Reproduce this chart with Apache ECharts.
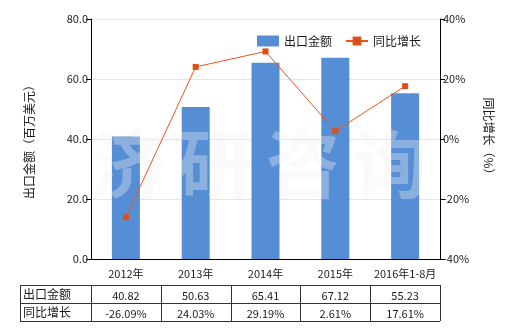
<!DOCTYPE html>
<html><head><meta charset="utf-8">
<script src="https://cdn.jsdelivr.net/npm/echarts@6/dist/echarts.min.js"></script>
<style>html,body{margin:0;padding:0;background:#fff}#c{width:520px;height:330px}</style>
</head><body><div id="c"></div>
<script>
var categories = ['2012年','2013年','2014年','2015年','2016年1-8月'];
var exportValues = [40.82, 50.63, 65.41, 67.12, 55.23];
var growthValues = [-26.09, 24.03, 29.19, 2.61, 17.61];
var exportLabels = ['40.82','50.63','65.41','67.12','55.23'];
var growthLabels = ['-26.09%','24.03%','29.19%','2.61%','17.61%'];
var seriesNames = ['出口金额','同比增长'];
var leftAxisName = '出口金额（百万美元）';
var rightAxisName = '同比增长（%）';

var FONT = '"Noto Sans CJK SC", sans-serif';
var chart = echarts.init(document.getElementById('c'), null, {renderer:'canvas'});
var txt = '#1a1a1a';
var option = {
  animation:false,
  textStyle:{fontFamily:FONT},
  grid:{left:91,right:80,top:19,bottom:71},
  legend:{left:252,top:30,itemWidth:22,itemHeight:11,itemGap:13,
    textStyle:{fontSize:12,color:txt,fontFamily:FONT},
    data:[{name:seriesNames[0],icon:'rect'},{name:seriesNames[1]}]},
  xAxis:{type:'category',data:categories,
    axisLine:{lineStyle:{color:'#000'}},
    axisTick:{alignWithLabel:true,length:4,lineStyle:{color:'#000'}},
    axisLabel:{interval:0,fontSize:11,color:txt,margin:9,fontFamily:FONT}},
  yAxis:[{type:'value',min:0,max:80,interval:20,name:leftAxisName,nameLocation:'middle',nameGap:56,nameRotate:90,
    nameTextStyle:{fontSize:12,color:txt,fontFamily:FONT},
    axisLine:{show:true,lineStyle:{color:'#000'}},axisTick:{show:true,length:5,lineStyle:{color:'#000'}},
    axisLabel:{fontSize:11,color:txt,margin:3,formatter:function(v){return v.toFixed(1);},fontFamily:FONT},
    splitLine:{lineStyle:{color:'#e6e6e0'}}},
   {type:'value',min:-40,max:40,interval:20,name:rightAxisName,nameLocation:'middle',nameGap:43,nameRotate:-90,
    nameTextStyle:{fontSize:12,color:txt,fontFamily:FONT},
    axisLine:{show:true,lineStyle:{color:'#000'}},axisTick:{show:true,length:5,lineStyle:{color:'#000'}},
    axisLabel:{fontSize:11,color:txt,margin:3,formatter:'{value}%',fontFamily:FONT},
    splitLine:{show:false}}],
  series:[
    {name:seriesNames[0],type:'bar',data:exportValues,barWidth:28,itemStyle:{color:'#558ed5'},z:2},
    {name:seriesNames[1],type:'line',yAxisIndex:1,data:growthValues,symbol:'rect',symbolSize:6,
      lineStyle:{color:'#e8561e',width:1},itemStyle:{color:'#e04e14'},z:5}
  ]
};
chart.setOption(option);

var g = [];
var wm = ['济','研','咨','询'];
var wmx = [128,215,303,390];
for (var i=0;i<wm.length;i++){
  g.push({type:'text',z:3,left:wmx[i]-37,top:127,style:{text:wm[i],font:'bold 74px '+FONT,fill:'rgba(242,242,242,0.35)'}});
}
var tableTop = 285, rowH = 18, tableLeft = 20;
var bounds = [];
var half = (chart.convertToPixel({xAxisIndex:0},1) - chart.convertToPixel({xAxisIndex:0},0))/2;
var centers = categories.map(function(c,i){return chart.convertToPixel({xAxisIndex:0},i);});
bounds.push(centers[0]-half);
centers.forEach(function(c){bounds.push(c+half);});
var right = bounds[bounds.length-1];
var lineStyle = {stroke:'#333',lineWidth:1};
function hl(y){g.push({type:'line',shape:{x1:tableLeft,y1:y,x2:right,y2:y},style:lineStyle});}
function vl(x){g.push({type:'line',shape:{x1:x,y1:tableTop,x2:x,y2:tableTop+2*rowH},style:lineStyle});}
hl(tableTop+0.5); hl(tableTop+rowH+0.5); hl(tableTop+2*rowH+0.5);
vl(tableLeft+0.5);
bounds.forEach(function(b){vl(Math.round(b)+0.5);});
var rows = [[seriesNames[0],exportLabels],[seriesNames[1],growthLabels]];
rows.forEach(function(r,ri){
  var cy = tableTop + ri*rowH + rowH/2 + 0.5;
  g.push({type:'text',x:tableLeft+3,y:cy,style:{text:r[0],font:'12px '+FONT,fill:txt,textVerticalAlign:'middle',textAlign:'left'}});
  r[1].forEach(function(v,i){
    g.push({type:'text',x:centers[i],y:cy+1,style:{text:v,font:'11px '+FONT,fill:txt,textVerticalAlign:'middle',textAlign:'center'}});
  });
});
chart.setOption({graphic:g});
</script></body></html>
